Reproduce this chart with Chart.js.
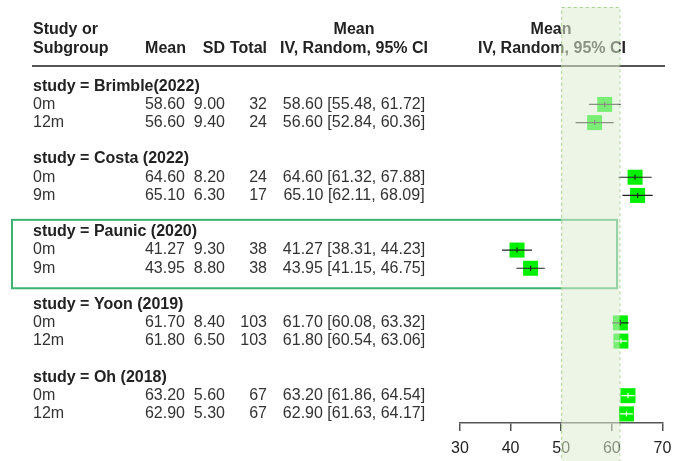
<!DOCTYPE html>
<html lang="en">
<head>
  <meta charset="UTF-8" />
  <title>Forest plot</title>
  <script src="https://cdn.jsdelivr.net/npm/chart.js"></script>
  <style>
    html, body { margin: 0; padding: 0; background: #fff; }
    .wrap { width: 673px; height: 461px; position: relative; }
  </style>
</head>
<body>
  <div class="wrap"><canvas id="forest"></canvas></div>
  <script>
    // values
    const studies = ['Brimble(2022)', 'Costa (2022)', 'Paunic (2020)', 'Yoon (2019)', 'Oh (2018)'];
    const subgroups = ['0m', '12m', '0m', '9m', '0m', '9m', '0m', '12m', '0m', '12m'];
    const means = [58.60, 56.60, 64.60, 65.10, 41.27, 43.95, 61.70, 61.80, 63.20, 62.90];
    const sds = [9.00, 9.40, 8.20, 6.30, 9.30, 8.80, 8.40, 6.50, 5.60, 5.30];
    const totals = [32, 24, 24, 17, 38, 38, 103, 103, 67, 67];
    const ciLow = [55.48, 52.84, 61.32, 62.11, 38.31, 41.15, 60.08, 60.54, 61.86, 61.63];
    const ciHigh = [61.72, 60.36, 67.88, 68.09, 44.23, 46.75, 63.32, 63.06, 64.54, 64.17];
    const xTicks = [30, 40, 50, 60, 70];
    const bandRange = [50, 61.5];
    const highlightStudy = 'Paunic (2020)';

    // each study: heading row, two subgroup rows, one blank row
    const rowOf = i => Math.floor(i / 2) * 4 + (i % 2) + 1;
    const headRow = s => s * 4;

    const FONT = '"Liberation Sans", Arial, sans-serif';
    const boxSide = 15;

    const forestPlugin = {
      id: 'forest',
      afterDatasetsDraw(chart) {
        const { ctx, scales: { x, y } } = chart;
        const half = boxSide / 2;
        ctx.save();
        means.forEach((m, i) => {
          const py = y.getPixelForValue(rowOf(i));
          const x0 = x.getPixelForValue(ciLow[i]);
          const x1 = x.getPixelForValue(ciHigh[i]);
          const xm = x.getPixelForValue(m);
          // CI hidden inside the square is drawn white, like meta::forest
          const inside = (xm - x0) < half && (x1 - xm) < half;
          ctx.strokeStyle = inside ? '#ffffff' : '#222';
          ctx.lineWidth = 1.2;
          ctx.beginPath();
          ctx.moveTo(x0, py); ctx.lineTo(x1, py);
          ctx.moveTo(xm, py - 2.5); ctx.lineTo(xm, py + 2.5);
          ctx.stroke();
        });
        ctx.restore();
      },
      afterDraw(chart) {
        const { ctx, scales: { x, y } } = chart;
        ctx.save();
        ctx.fillStyle = '#222';
        ctx.textBaseline = 'middle';

        // header
        ctx.font = 'bold 16px ' + FONT;
        ctx.textAlign = 'left';
        ctx.fillText('Study or', 33, 30);
        ctx.fillText('Subgroup', 33, 49);
        ctx.textAlign = 'right';
        ctx.fillText('Mean', 186, 49);
        ctx.fillText('SD', 225, 49);
        ctx.fillText('Total', 267, 49);
        ctx.textAlign = 'center';
        ctx.fillText('Mean', 354, 30);
        ctx.fillText('IV, Random, 95% CI', 354, 49);
        ctx.fillText('Mean', 551, 30);
        ctx.fillText('IV, Random, 95% CI', 552, 49);

        ctx.strokeStyle = '#555';
        ctx.lineWidth = 2;
        ctx.beginPath();
        ctx.moveTo(32, 66); ctx.lineTo(665, 66);
        ctx.stroke();

        // study headings
        ctx.textAlign = 'left';
        studies.forEach((s, k) => {
          ctx.fillText('study = ' + s, 33, y.getPixelForValue(headRow(k)));
        });

        // table rows
        ctx.font = '16px ' + FONT;
        ctx.fillStyle = '#333';
        means.forEach((m, i) => {
          const py = y.getPixelForValue(rowOf(i));
          ctx.textAlign = 'left';
          ctx.fillText(subgroups[i], 33, py);
          ctx.textAlign = 'right';
          ctx.fillText(m.toFixed(2), 185, py);
          ctx.fillText(sds[i].toFixed(2), 225, py);
          ctx.fillText(String(totals[i]), 267, py);
          ctx.textAlign = 'center';
          ctx.fillText(m.toFixed(2) + ' [' + ciLow[i].toFixed(2) + ', ' + ciHigh[i].toFixed(2) + ']', 354, py);
        });

        // box round the highlighted study
        const hk = studies.indexOf(highlightStudy);
        const top = y.getPixelForValue(headRow(hk)) - 12;
        const bot = y.getPixelForValue(headRow(hk) + 2) + 20;
        ctx.strokeStyle = '#3cb371';
        ctx.lineWidth = 2;
        ctx.strokeRect(12, top, 605, bot - top);

        // shaded reference band on top of everything
        const bx0 = x.getPixelForValue(bandRange[0]);
        const bx1 = x.getPixelForValue(bandRange[1]);
        ctx.fillStyle = 'rgba(222,237,212,0.55)';
        ctx.fillRect(bx0, 7, bx1 - bx0, chart.height - 7);
        ctx.strokeStyle = 'rgba(150,205,120,0.8)';
        ctx.lineWidth = 1;
        ctx.setLineDash([3, 3]);
        ctx.strokeRect(bx0 + 0.5, 7.5, bx1 - bx0, chart.height);
        ctx.restore();
      }
    };

    new Chart(document.getElementById('forest'), {
      type: 'scatter',
      data: {
        datasets: [{
          data: means.map((m, i) => ({ x: m, y: rowOf(i) })),
          pointStyle: 'rect',
          pointRadius: boxSide / 2 / Math.SQRT1_2,
          pointHoverRadius: boxSide / 2 / Math.SQRT1_2,
          backgroundColor: '#00f000',
          borderWidth: 0,
          clip: false
        }]
      },
      options: {
        responsive: true,
        maintainAspectRatio: false,
        animation: false,
        events: [],
        layout: { padding: { left: 460, right: 9, top: 68, bottom: 0 } },
        plugins: { legend: { display: false }, tooltip: { enabled: false } },
        scales: {
          x: {
            type: 'linear',
            min: 30,
            max: 70,
            afterBuildTicks: axis => { axis.ticks = xTicks.map(v => ({ value: v })); },
            afterFit: axis => { axis.paddingLeft = 0; axis.paddingRight = 0; axis.height = 38; },
            grid: { drawOnChartArea: false, drawTicks: true, tickLength: 8, color: '#555', lineWidth: 1.5 },
            border: { display: true, color: '#555', width: 1.5 },
            ticks: { color: '#222', padding: 10, maxRotation: 0, font: { family: FONT, size: 16, lineHeight: 1 } }
          },
          y: {
            type: 'linear',
            display: false,
            reverse: true,
            min: -1,
            max: 18.5
          }
        }
      },
      plugins: [forestPlugin]
    });
  </script>
</body>
</html>
